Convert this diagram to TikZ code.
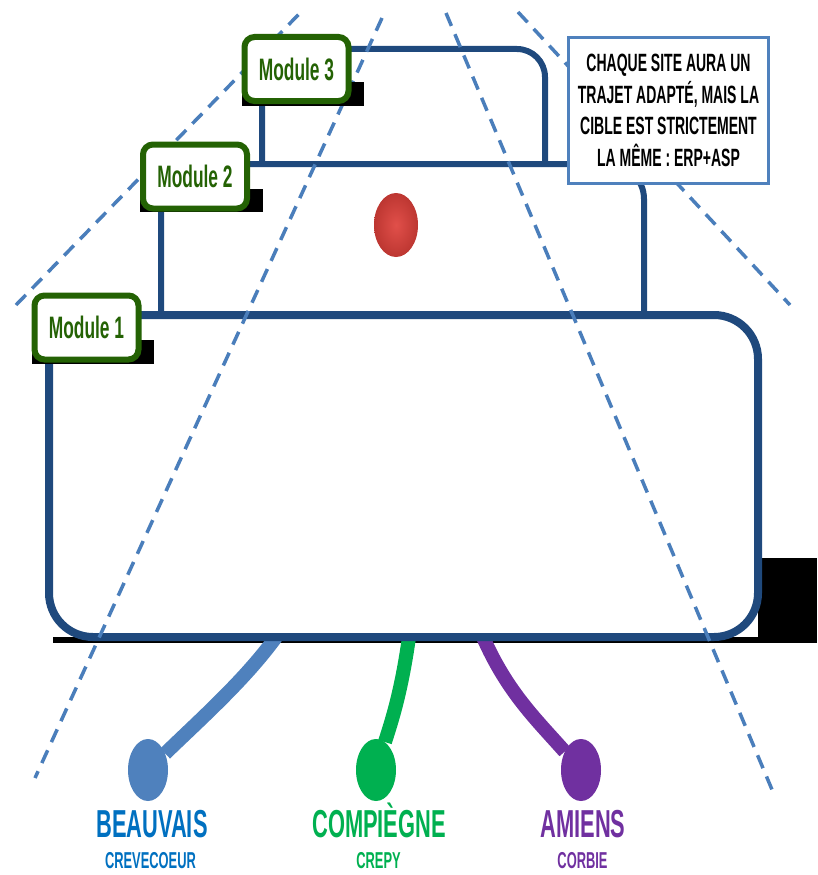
\documentclass[tikz,border=0pt]{standalone}
\usepackage{fontspec}
\newfontfamily\condfont[FakeStretch=0.56]{Liberation Sans}
\usetikzlibrary{positioning,shapes.geometric}
\definecolor{navy}{RGB}{31,73,125}
\definecolor{dashblue}{RGB}{74,126,187}
\definecolor{modgreen}{RGB}{36,98,4}
\definecolor{paleblue}{RGB}{79,129,189}
\definecolor{cityblue}{RGB}{0,112,192}
\definecolor{citygreen}{RGB}{0,176,80}
\definecolor{citypurple}{RGB}{112,48,160}
\definecolor{ballred}{RGB}{222,64,58}
\tikzset{x=1pt, y=-1pt,
  frame/.style={draw=navy, line width=6pt},
  guide/.style={draw=dashblue, line width=3.5pt, dash pattern=on 14pt off 9pt},
  modlbl/.style={draw=modgreen, line width=6pt, fill=white, rounded corners=10pt,
    minimum width=104pt, minimum height=64pt, inner sep=0pt, text=modgreen,
    font=\condfont\bfseries\fontsize{31pt}{31pt}\selectfont},
  lblshadow/.style={fill=black},
  site/.style={ellipse, minimum width=40pt, minimum height=62pt, inner sep=0pt},
  link/.style={line width=14pt},
  city/.style={anchor=base, font=\condfont\bfseries\fontsize{39pt}{39pt}\selectfont},
  town/.style={anchor=base, inner sep=0.5pt, font=\condfont\bfseries\fontsize{23pt}{23pt}\selectfont},
  note/.style={draw=paleblue, line width=3pt, fill=white, minimum width=200pt,
    minimum height=146pt, align=center, inner sep=0pt,
    font=\condfont\bfseries\fontsize{25pt}{31.7pt}\selectfont}
}

\begin{document}
\begin{tikzpicture}
             \useasboundingbox (0,0) rectangle (817,875);

             \fill (758,558) rectangle (817,643);
             \fill (53,637) rectangle (817,643);

             \coordinate (tb) at (281,630);
             \coordinate (tc) at (410,630);
             \coordinate (ta) at (480,630);

             \node[site, fill=paleblue] (cb) at (148,770) {};
             \node[site, fill=citygreen] (cc) at (376,770) {};
             \node[site, fill=citypurple] (ca) at (581,770) {};

             \draw[link, paleblue] (tb) .. controls (250,675) and (205,715) .. (cb);
             \draw[link, citygreen] (tc) .. controls (402,690) and (392,720) .. (cc);
             \draw[link, citypurple] (ta) .. controls (505,690) and (535,718) .. (ca);

             \draw[frame, line width=8pt, fill=white, rounded corners=44pt] (49,315) rectangle (758,637);
             \draw[frame, rounded corners=35pt] (161,315) -- (161,164) -- (644,164) -- (644,315);
             \draw[frame, rounded corners=28pt] (262,164) -- (262,49) -- (545,49) -- (545,164);

             \node[ellipse, minimum width=44pt, minimum height=64pt, inner color=ballred!92!white,
               outer color=ballred!85!black] (ball) at (396,225) {};

             \draw[guide] (16,305) -- (300,13);
             \draw[guide] (382,18) -- (35,778);
             \draw[guide] (446,13) -- (773,792);
             \draw[guide] (518,12) -- (790,305);

             \fill[lblshadow] (32,340) rectangle (154,364);
             \node[modlbl] (m1) at (86.5,327.5) {Module 1};
             \fill[lblshadow] (140,189) rectangle (263,212);
             \node[modlbl] (m2) at (195,176.5) {Module 2};
             \fill[lblshadow] (242,82) rectangle (364,106);
             \node[modlbl] (m3) at (296.5,69) {Module 3};

             \node[note] (msg) at (668.5,110.5) {CHAQUE SITE AURA UN\\TRAJET ADAPTÉ, MAIS LA\\CIBLE EST STRICTEMENT\\LA MÊME : ERP+ASP};

             \node[city, text=cityblue] (bv) at (152,837) {BEAUVAIS};
             \node[town, text=cityblue] (cv) at (150.5,868) {CREVECOEUR};
             \node[city, text=citygreen] (cp) at (379,837) {COMPIÈGNE};
             \node[town, text=citygreen] (cr) at (378.5,868) {CREPY};
             \node[city, text=citypurple] (am) at (583,837) {AMIENS};
             \node[town, text=citypurple] (co) at (582.5,868) {CORBIE};
          \end{tikzpicture}
\end{document}
